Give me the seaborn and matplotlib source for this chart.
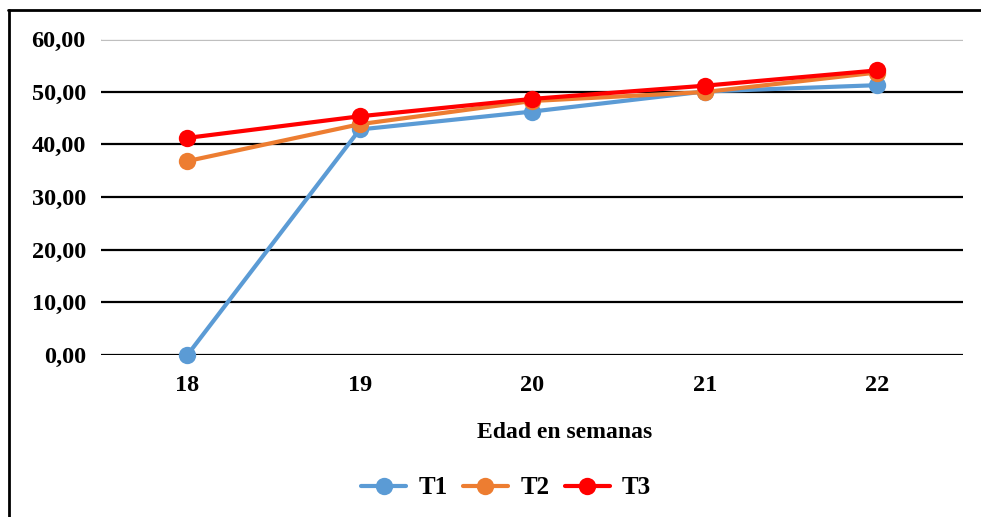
import matplotlib
matplotlib.use("Agg")
import matplotlib.pyplot as plt
from matplotlib.lines import Line2D
import seaborn as sns
import pandas as pd

# Weekly measurements per treatment
weeks = ["18", "19", "20", "21", "22"]
t1 = [0.0, 42.8, 46.2, 50.0, 51.2]
t2 = [36.8, 43.8, 48.2, 49.9, 53.6]
t3 = [41.2, 45.3, 48.6, 51.1, 54.0]
series_names = ["T1", "T2", "T3"]
y_ticks = [0, 10, 20, 30, 40, 50, 60]
x_label = "Edad en semanas"

colors = {"T1": "#5B9BD5", "T2": "#ED7D31", "T3": "#FF0000"}

rows = []
for name, vals in zip(series_names, [t1, t2, t3]):
    for i, (w, v) in enumerate(zip(weeks, vals)):
        rows.append({"pos": i, "semana": w, "valor": v, "trat": name})
df = pd.DataFrame(rows)

sns.set_theme(style="white")
plt.rcParams["font.family"] = ["Liberation Serif", "DejaVu Serif"]
plt.rcParams["font.weight"] = "bold"
plt.rcParams["text.color"] = "black"

fig = plt.figure(figsize=(9.81, 5.17), dpi=100)
ax = fig.add_axes([0.103, 0.313, 0.879, 0.612])

ax.set_ylim(0, 60)
ax.set_xlim(-0.5, len(weeks) - 0.5)
for t in y_ticks:
    if t == y_ticks[-1]:
        ax.axhline(t, color="#BFBFBF", lw=2.2, zorder=0)
        ax.axhline(t, color="white", lw=0.6, zorder=0)
    else:
        ax.axhline(t, color="black", lw=1.6, zorder=0)

sns.lineplot(data=df, x="pos", y="valor", hue="trat", palette=colors,
             marker="o", markersize=12.5, markeredgewidth=0, linewidth=3.0,
             ax=ax, legend=False, zorder=3, clip_on=False)

ax.set_xticks(range(len(weeks)))
ax.set_xticklabels(weeks)
ax.set_yticks(y_ticks)
ax.set_yticklabels([f"{v:.2f}".replace(".", ",") for v in y_ticks])
ax.tick_params(axis="both", length=0, labelsize=17.5, colors="black")
ax.tick_params(axis="x", pad=14)
ax.tick_params(axis="y", pad=11)
for lab in ax.get_xticklabels() + ax.get_yticklabels():
    lab.set_fontweight("bold")
ax.set_xlabel("")
ax.set_ylabel("")
for s in ax.spines.values():
    s.set_visible(False)

fig.text(0.576, 1 - 433 / 517, x_label, ha="center", va="center",
         fontsize=17, fontweight="bold", color="black")

handles = [Line2D([0], [0], color=colors[n], lw=3.0, marker="o", markersize=12.5,
                  markeredgewidth=0) for n in series_names]
leg = fig.legend(handles, series_names, loc="center",
                 bbox_to_anchor=(0.516, 1 - 488 / 517),
                 ncol=3, frameon=False, prop={"weight": "bold", "size": 18},
                 handlelength=1.8, handletextpad=0.5, columnspacing=0.6)
for txt in leg.get_texts():
    txt.set_color("black")

# Outer frame of the chart area
fig.add_artist(Line2D([0.008, 1.0], [1 - 10 / 517, 1 - 10 / 517],
                      transform=fig.transFigure, color="black", lw=2))
fig.add_artist(Line2D([0.009, 0.009], [0.0, 1 - 10 / 517],
                      transform=fig.transFigure, color="black", lw=2))

fig.savefig("out.png", dpi=100, facecolor="white")
